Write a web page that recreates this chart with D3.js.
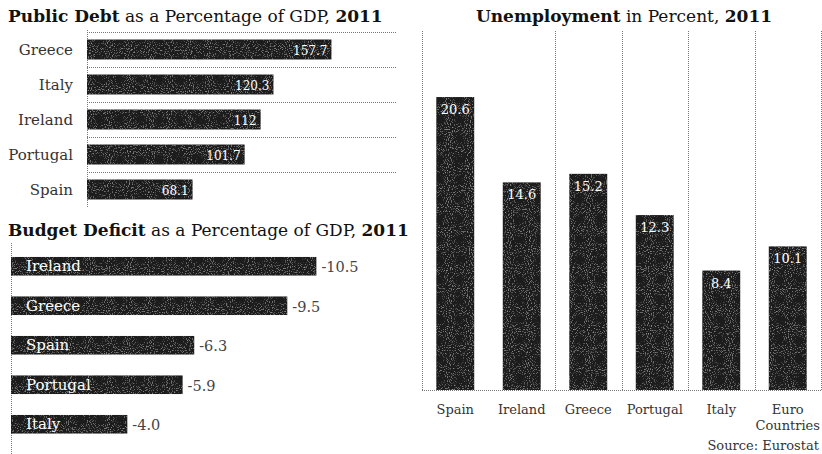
<!DOCTYPE html>
<html>
<head>
<meta charset="utf-8">
<script src="https://cdn.jsdelivr.net/npm/d3@7"></script>
<style>
  body { margin: 0; background: #fff; }
  text { font-family: "DejaVu Serif", "Liberation Serif", serif; }
  .title { font-size: 17px; fill: #111; }
  .title .b { font-weight: bold; }
  .cat { font-size: 13px; fill: #333; }
  .ycat { font-size: 15px; }
  .inval { font-size: 12px; fill: #fff; }
  .outval { font-size: 14.5px; fill: #444; }
  .grid { stroke: #777; stroke-width: 1; stroke-dasharray: 1 1; }
</style>
</head>
<body>
<div id="chart"></div>
<script>
const width = 822
const height = 454

// datos
const debtCountries = ["Greece", "Italy", "Ireland", "Portugal", "Spain"]
const debtValues = [157.7, 120.3, 112, 101.7, 68.1]

const deficitCountries = ["Ireland", "Greece", "Spain", "Portugal", "Italy"]
const deficitValues = [-10.5, -9.5, -6.3, -5.9, -4.0]

const unempCountries = ["Spain", "Ireland", "Greece", "Portugal", "Italy", "Euro Countries"]
const unempValues = [20.6, 14.6, 15.2, 12.3, 8.4, 10.1]

const barColor = "#1a1a1a"

const svg = d3.select("div#chart")
  .append("svg")
  .attr("width", width)
  .attr("height", height)

// textura granulada de las barras
const filter = svg.append("defs").append("filter")
  .attr("id", "grain")
  .attr("x", 0).attr("y", 0).attr("width", 1).attr("height", 1)
filter.append("feTurbulence")
  .attr("type", "fractalNoise")
  .attr("baseFrequency", 0.95)
  .attr("numOctaves", 1)
  .attr("seed", 3)
  .attr("result", "noise")
filter.append("feColorMatrix")
  .attr("in", "noise")
  .attr("type", "matrix")
  .attr("values", "0 0 0 0 0.45  0 0 0 0 0.45  0 0 0 0 0.45  2.6 0 0 0 -1.45")
  .attr("result", "dots")
filter.append("feComposite")
  .attr("in", "dots").attr("in2", "SourceGraphic")
  .attr("operator", "in")
  .attr("result", "dotsIn")
const merge = filter.append("feMerge")
merge.append("feMergeNode").attr("in", "SourceGraphic")
merge.append("feMergeNode").attr("in", "dotsIn")

function title(x, y, parts, anchor) {
  const t = svg.append("text")
    .attr("class", "title")
    .attr("x", x).attr("y", y)
    .attr("text-anchor", anchor || "start")
  parts.forEach(p => {
    t.append("tspan").attr("class", p[1] ? "b" : null).text(p[0])
  })
  return t
}

// ---------- Deuda publica ----------
const debt = debtCountries.map((c, i) => ({ name: c, value: debtValues[i] }))

const xDebt = d3.scaleLinear().domain([0, 200]).range([87, 397])
const yDebt = d3.scaleBand().domain(debtCountries).range([32, 207])
  .paddingInner(0.43).paddingOuter(0.215)
const debtGap = (yDebt.step() - yDebt.bandwidth()) / 2

title(8, 22, [["Public Debt", true], [" as a Percentage of GDP, ", false], ["2011", true]])

const debtGroup = svg.append("g").attr("id", "debtGroup")

debtGroup.selectAll("line.h").data(debt)
  .join("line")
  .attr("class", "grid h")
  .attr("x1", xDebt(0)).attr("x2", xDebt(200))
  .attr("y1", d => yDebt(d.name) - debtGap + 0.5)
  .attr("y2", d => yDebt(d.name) - debtGap + 0.5)

debtGroup.append("line")
  .attr("class", "grid")
  .attr("x1", xDebt(0) + 0.5).attr("x2", xDebt(0) + 0.5)
  .attr("y1", 30).attr("y2", 207)

debtGroup.selectAll("rect").data(debt)
  .join("rect")
  .attr("x", xDebt(0))
  .attr("y", d => yDebt(d.name))
  .attr("width", d => xDebt(d.value) - xDebt(0))
  .attr("height", yDebt.bandwidth())
  .attr("fill", barColor)
  .attr("filter", "url(#grain)")

debtGroup.selectAll("text.cat").data(debt)
  .join("text")
  .attr("class", "cat ycat")
  .attr("x", 73)
  .attr("y", d => yDebt(d.name) + yDebt.bandwidth() / 2 + 5)
  .attr("text-anchor", "end")
  .text(d => d.name)

debtGroup.selectAll("text.inval").data(debt)
  .join("text")
  .attr("class", "inval")
  .attr("x", d => xDebt(d.value) - 4)
  .attr("y", d => yDebt(d.name) + yDebt.bandwidth() / 2 + 5)
  .attr("text-anchor", "end")
  .text(d => d.value)

// ---------- Deficit ----------
const deficit = deficitCountries.map((c, i) => ({ name: c, value: deficitValues[i] }))

const xDef = d3.scaleLinear().domain([0, -12]).range([11, 360])
const yDef = d3.scaleBand().domain(deficitCountries).range([246.5, 444])
  .paddingInner(0.53).paddingOuter(0.265)

title(8, 236, [["Budget Deficit", true], [" as a Percentage of GDP, ", false], ["2011", true]])

const defGroup = svg.append("g").attr("id", "defGroup")

defGroup.append("line")
  .attr("class", "grid")
  .attr("x1", xDef(0) + 0.5).attr("x2", xDef(0) + 0.5)
  .attr("y1", 243).attr("y2", 454)

defGroup.selectAll("rect").data(deficit)
  .join("rect")
  .attr("x", xDef(0))
  .attr("y", d => yDef(d.name))
  .attr("width", d => xDef(d.value) - xDef(0))
  .attr("height", yDef.bandwidth())
  .attr("fill", barColor)
  .attr("filter", "url(#grain)")

defGroup.selectAll("text.incat").data(deficit)
  .join("text")
  .attr("class", "inval")
  .style("font-size", "15px")
  .attr("x", 26)
  .attr("y", d => yDef(d.name) + yDef.bandwidth() / 2 + 5)
  .text(d => d.name)

defGroup.selectAll("text.outval").data(deficit)
  .join("text")
  .attr("class", "outval")
  .attr("x", d => xDef(d.value) + 5)
  .attr("y", d => yDef(d.name) + yDef.bandwidth() / 2 + 6)
  .text(d => d.value.toFixed(1))

// ---------- Desempleo ----------
const unemp = unempCountries.map((c, i) => ({ name: c, value: unempValues[i] }))

const xUn = d3.scaleBand().domain(unempCountries).range([422, 821])
  .paddingInner(0.43).paddingOuter(0.215)
const yUn = d3.scaleLinear().domain([0, 25]).range([390, 34.5])
const unGap = (xUn.step() - xUn.bandwidth()) / 2

title(624, 22, [["Unemployment", true], [" in Percent, ", false], ["2011", true]], "middle")

const unGroup = svg.append("g").attr("id", "unGroup")

// lineas verticales (en el original falta la de Spain|Ireland)
const vLines = unemp.map((d, i) => ({ i: i, x: xUn(d.name) - unGap }))
  .concat([{ i: unemp.length, x: xUn.range()[1] }])
  .filter(d => d.i !== 1)

unGroup.selectAll("line.v").data(vLines)
  .join("line")
  .attr("class", "grid v")
  .attr("x1", d => Math.round(d.x) + 0.5).attr("x2", d => Math.round(d.x) + 0.5)
  .attr("y1", 31).attr("y2", yUn(0))

unGroup.append("line")
  .attr("class", "grid")
  .attr("x1", 422).attr("x2", 821)
  .attr("y1", yUn(0) + 0.5).attr("y2", yUn(0) + 0.5)

unGroup.selectAll("rect").data(unemp)
  .join("rect")
  .attr("x", d => xUn(d.name))
  .attr("y", d => yUn(d.value))
  .attr("width", xUn.bandwidth())
  .attr("height", d => yUn(0) - yUn(d.value))
  .attr("fill", barColor)
  .attr("filter", "url(#grain)")

unGroup.selectAll("text.inval").data(unemp)
  .join("text")
  .attr("class", "inval")
  .style("font-size", "13px")
  .attr("x", d => xUn(d.name) + xUn.bandwidth() / 2)
  .attr("y", d => yUn(d.value) + 17)
  .attr("text-anchor", "middle")
  .text(d => d.value)

const xLabels = unGroup.selectAll("text.cat").data(unemp)
  .join("text")
  .attr("class", "cat")
  .attr("text-anchor", "middle")
  .attr("y", 414)

xLabels.selectAll("tspan")
  .data(d => d.name.split(" ").map(w => ({ w: w, x: xUn(d.name) + xUn.bandwidth() / 2 })))
  .join("tspan")
  .attr("x", d => d.x)
  .attr("dy", (d, i) => i ? 16 : 0)
  .text(d => d.w)

svg.append("text")
  .attr("class", "cat")
  .attr("x", 819).attr("y", 450)
  .attr("text-anchor", "end")
  .text("Source: Eurostat")
</script>
</body>
</html>
